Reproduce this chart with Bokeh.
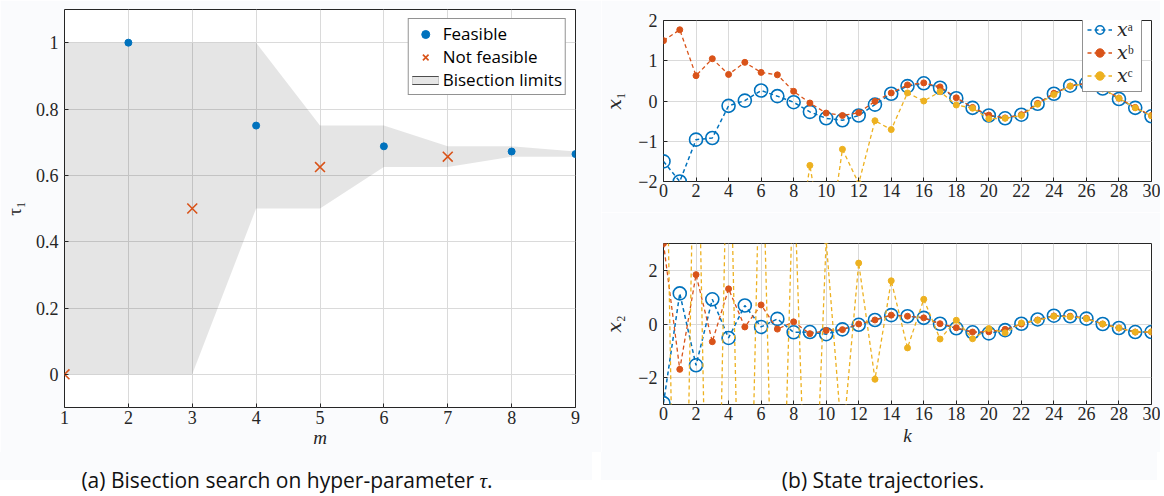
from bokeh.plotting import figure
from bokeh.layouts import row, column
from bokeh.models import Div, Legend, LegendItem, Range1d
from bokeh.embed import file_html
from bokeh.resources import INLINE

# ---------------- data: left panel (bisection search) ----------------
m_feasible = [2, 4, 6, 8, 9]
tau_feasible = [1.0, 0.75, 0.6875, 0.671875, 0.6640625]
m_infeasible = [1, 3, 5, 7]
tau_infeasible = [0.0, 0.5, 0.625, 0.65625]
m_steps = [1, 2, 3, 4, 5, 6, 7, 8, 9]
tau_upper = [1.0, 1.0, 1.0, 1.0, 0.75, 0.75, 0.6875, 0.6875, 0.671875]
tau_lower = [0.0, 0.0, 0.0, 0.5, 0.5, 0.625, 0.625, 0.65625, 0.65625]
m_ticks = [1, 2, 3, 4, 5, 6, 7, 8, 9]
tau_ticks = [0, 0.2, 0.4, 0.6, 0.8, 1]
tau_tick_labels = ["0", "0.2", "0.4", "0.6", "0.8", "1"]

# ---------------- data: right panel (state trajectories) ----------------
k = list(range(31))
x1_a = [-1.5, -2.0, -0.96, -0.92, -0.12, 0.01, 0.26, 0.12, -0.03, -0.27, -0.43, -0.48, -0.36, -0.09, 0.18,
        0.37, 0.44, 0.33, 0.07, -0.17, -0.36, -0.43, -0.34, -0.07, 0.18, 0.38, 0.44, 0.31, 0.05, -0.17, -0.38]
x1_b = [1.5, 1.77, 0.63, 1.05, 0.66, 0.96, 0.71, 0.65, 0.24, -0.05, -0.30, -0.36, -0.29, -0.01, 0.2,
        0.4, 0.45, 0.35, 0.08, -0.16, -0.35, -0.42, -0.34, -0.06, 0.19, 0.37, 0.44, 0.32, 0.07, -0.16, -0.36]
x1_c = [-3.2, -5.0, -3.6, -6.1, -4.4, -6.8, -4.0, -6.3, -4.45, -1.6, -4.0, -1.2, -2.05, -0.49, -0.71,
        0.2, 0.0, 0.23, -0.1, -0.18, -0.44, -0.43, -0.36, -0.08, 0.16, 0.37, 0.43, 0.30, 0.07, -0.17, -0.37]
x2_a = [-2.95, 1.14, -1.54, 0.92, -0.52, 0.69, -0.11, 0.19, -0.31, -0.30, -0.38, -0.2, -0.03, 0.15, 0.33,
        0.29, 0.23, 0.01, -0.16, -0.31, -0.35, -0.23, 0.01, 0.17, 0.31, 0.29, 0.2, 0.0, -0.15, -0.3, -0.3]
x2_b = [3.0, -1.69, 1.84, -0.66, 1.31, -0.11, 0.71, -0.19, 0.08, -0.36, -0.24, -0.21, 0.0, 0.15, 0.33,
        0.29, 0.23, 0.01, -0.14, -0.3, -0.29, -0.2, 0.0, 0.15, 0.3, 0.29, 0.21, 0.0, -0.15, -0.3, -0.3]
x2_c = [14.0, -22.0, 12.0, -20.0, 10.0, -18.0, 9.0, -15.0, 6.0, -12.0, 3.1, -4.5, 2.27, -2.06, 1.61,
        -0.89, 0.92, -0.56, 0.14, -0.55, -0.17, -0.33, 0.04, 0.14, 0.29, 0.27, 0.2, 0.0, -0.15, -0.3, -0.29]
k_ticks = list(range(0, 31, 2))
x1_ticks = [-2, -1, 0, 1, 2]
x1_tick_labels = ["\u22122", "\u22121", "0", "1", "2"]
x2_ticks = [-2, 0, 2]
x2_tick_labels = ["\u22122", "0", "2"]

# ---------------- style ----------------
BLUE = "#0072BD"
RED = "#D95319"
YELLOW = "#EDB120"
AX = "#262626"
GRID = "#dadada"
BG = "#fafbfd"
SERIF = "'Liberation Serif', 'Times New Roman', 'DejaVu Serif', serif"
SANS = "'Open Sans', sans-serif"


def style(p, label_size="18px"):
    p.outline_line_color = AX
    p.outline_line_width = 1
    p.grid.grid_line_color = GRID
    p.grid.grid_line_width = 1
    for ax in list(p.xaxis) + list(p.yaxis):
        ax.axis_line_color = None
        ax.major_tick_in = 4
        ax.major_tick_out = 0
        ax.major_tick_line_color = AX
        ax.minor_tick_line_color = None
        ax.major_label_text_font = SERIF
        ax.major_label_text_font_size = label_size
        ax.major_label_text_color = AX
        ax.axis_label_text_font = SERIF
        ax.axis_label_text_font_style = "italic"
        ax.axis_label_text_font_size = "19px"
        ax.axis_label_text_color = AX


# ---------------- left figure ----------------
p1 = figure(frame_width=511, frame_height=398, min_border_left=55, min_border_right=26,
            min_border_top=9, min_border_bottom=45, x_range=Range1d(1, 9), y_range=Range1d(-0.1, 1.1),
            output_backend="svg", toolbar_location=None, background_fill_color="white",
            border_fill_color=BG)
style(p1)
p1.xaxis.ticker = m_ticks
p1.yaxis.ticker = tau_ticks
p1.yaxis.major_label_overrides = {t: s for t, s in zip(tau_ticks, tau_tick_labels)}
p1.xaxis.axis_label = "m"
p1.yaxis.axis_label = "\u03c4\u2081"
p1.yaxis.axis_label_text_font_style = "normal"
p1.xaxis.major_label_standoff = 3
p1.xaxis.axis_label_standoff = 0
p1.yaxis.major_label_standoff = 6
p1.yaxis.axis_label_standoff = 8

r_area = p1.varea(x=m_steps, y1=tau_lower, y2=tau_upper, fill_color="black", fill_alpha=0.1)
r_feas = p1.scatter(m_feasible, tau_feasible, marker="circle", size=7, fill_color=BLUE, line_color=BLUE)
r_inf = p1.scatter(m_infeasible, tau_infeasible, marker="x", size=14, line_color=RED, line_width=1.6)
# legend-only swatch (a single point draws no line in the plot)
r_sw1 = p1.line(x=m_steps[:1], y=tau_lower[:1], line_width=9, line_color="#4d4d4d")
r_sw2 = p1.line(x=m_steps[:1], y=tau_lower[:1], line_width=7, line_color="#e6e6e6")
leg1 = Legend(items=[LegendItem(label="Feasible", renderers=[r_feas]),
                     LegendItem(label="Not feasible", renderers=[r_inf]),
                     LegendItem(label="Bisection limits", renderers=[r_sw1, r_sw2])],
              location="top_right")
leg1.margin = 9
leg1.padding = 3
leg1.spacing = 0
leg1.glyph_width = 27
leg1.glyph_height = 20
leg1.label_height = 20
leg1.label_standoff = 4
leg1.label_text_font = SANS
leg1.label_text_font_size = "17px"
leg1.label_text_color = "black"
leg1.border_line_color = AX
leg1.border_line_width = 1
leg1.background_fill_alpha = 1
p1.add_layout(leg1)

# ---------------- right figures ----------------
def traj_fig(y0, y1, yt, ylab, top, bottom):
    p = figure(frame_width=488, frame_height=161, min_border_left=59, min_border_right=9,
               min_border_top=top, min_border_bottom=bottom, x_range=Range1d(0, 30),
               y_range=Range1d(y0, y1), output_backend="svg", toolbar_location=None,
               background_fill_color="white", border_fill_color=BG)
    style(p, "18px")
    p.xaxis.ticker = k_ticks
    p.yaxis.ticker = yt
    p.yaxis.axis_label = ylab
    p.yaxis.axis_label_text_font_style = "normal"
    p.yaxis.major_label_standoff = 6
    p.yaxis.axis_label_standoff = 10
    p.xaxis.major_label_standoff = 2
    return p


p2 = traj_fig(-2, 2, x1_ticks, "\U0001d465\u2081", 20, 31)
p2.yaxis.major_label_overrides = {t: s for t, s in zip(x1_ticks, x1_tick_labels)}
p3 = traj_fig(-3, 3, x2_ticks, "\U0001d465\u2082", 31, 48)
p3.yaxis.major_label_overrides = {t: s for t, s in zip(x2_ticks, x2_tick_labels)}
p3.xaxis.axis_label = "k"
p3.xaxis.axis_label_standoff = 2

items = []
for p, ya, yb, yc in ((p2, x1_a, x1_b, x1_c), (p3, x2_a, x2_b, x2_c)):
    la = p.line(k, ya, line_color=BLUE, line_width=1.5, line_dash="4 3")
    sa = p.scatter(k, ya, marker="circle", size=13, fill_color=None, line_color=BLUE, line_width=1.6)
    lb = p.line(k, yb, line_color=RED, line_width=1.3, line_dash="4 3")
    sb = p.scatter(k, yb, marker="circle", size=6, fill_color=RED, line_color=RED)
    lc = p.line(k, yc, line_color=YELLOW, line_width=1.3, line_dash="4 3")
    sc = p.scatter(k, yc, marker="circle", size=6, fill_color=YELLOW, line_color=YELLOW)
    items.append(((la, sa), (lb, sb), (lc, sc)))

(la, sa), (lb, sb), (lc, sc) = items[0]
leg2 = Legend(items=[LegendItem(label="\U0001d465\u1d43", renderers=[la, sa]),
                     LegendItem(label="\U0001d465\u1d47", renderers=[lb, sb]),
                     LegendItem(label="\U0001d465\u1d9c", renderers=[lc, sc])],
              location=(419, 89))
leg2.padding = 4
leg2.spacing = 0
leg2.glyph_width = 25
leg2.glyph_height = 21
leg2.label_height = 21
leg2.label_standoff = 5
leg2.label_text_font = SERIF
leg2.label_text_font_size = "19px"
leg2.label_text_color = AX
leg2.border_line_color = AX
leg2.border_line_width = 1
leg2.background_fill_alpha = 1
p2.add_layout(leg2)

# ---------------- captions ----------------
cap_style = ("font-family:'Open Sans',sans-serif;font-size:21px;color:#111;text-align:center;"
             "padding-top:13px;white-space:nowrap;")
capA = Div(text=f'<div style="{cap_style}width:574px;">(a) Bisection search on hyper-parameter '
                f'<i style="font-family:\'Liberation Serif\',serif">\u03c4</i>.</div>',
           width=592, height=28, margin=0, styles={"background-color": BG, "overflow": "visible"})
capB = Div(text=f'<div style="{cap_style}width:564px;">(b) State trajectories.</div>',
           width=556, height=28, margin=0, styles={"background-color": BG, "overflow": "visible"})

layout = row(column(p1, capA), column(p2, p3, capB))
html = file_html(layout, INLINE)
html = html.replace("<body>", f'<body style="background-color:{BG};">', 1)
open("out.html", "w").write(html)
